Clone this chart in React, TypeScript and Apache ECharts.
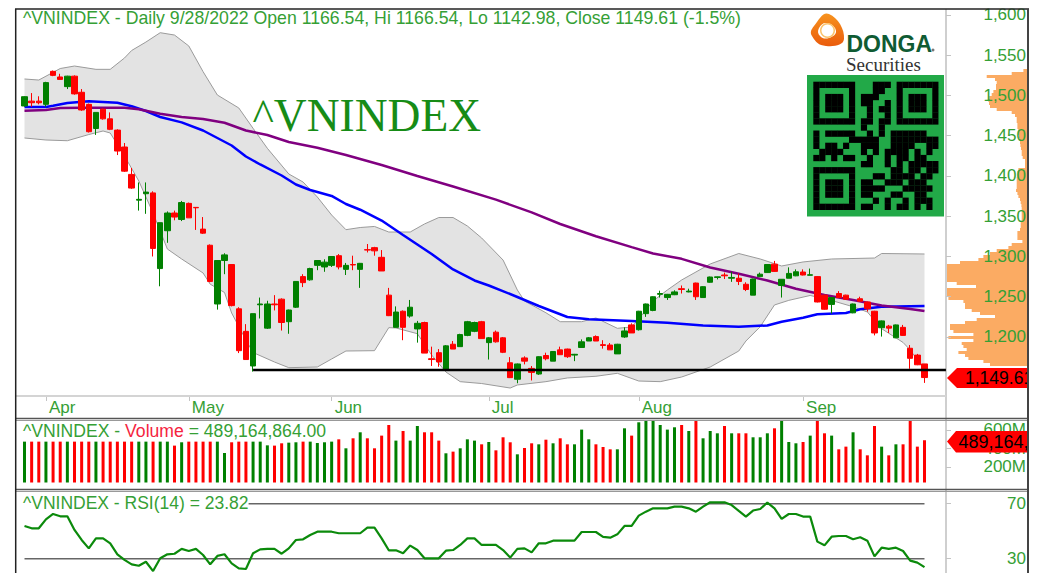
import React, { useEffect, useRef } from "react";
import * as echarts from "echarts";

const tradingDays: [string, number[]][] = [
  ["Mar", [29, 30, 31]],
  ["Apr", [1, 4, 5, 6, 7, 8, 12, 13, 14, 15, 18, 19, 20, 21, 22, 25, 26, 27, 28, 29]],
  ["May", [4, 5, 6, 9, 10, 11, 12, 13, 16, 17, 18, 19, 20, 23, 24, 25, 26, 27, 30, 31]],
  ["Jun", [1, 2, 3, 6, 7, 8, 9, 10, 13, 14, 15, 16, 17, 20, 21, 22, 23, 24, 27, 28, 29, 30]],
  ["Jul", [1, 4, 5, 6, 7, 8, 11, 12, 13, 14, 15, 18, 19, 20, 21, 22, 25, 26, 27, 28, 29]],
  ["Aug", [1, 2, 3, 4, 5, 8, 9, 10, 11, 12, 15, 16, 17, 18, 19, 22, 23, 24, 25, 26, 29, 30, 31]],
  ["Sep", [5, 6, 7, 8, 9, 12, 13, 14, 15, 16, 19, 20, 21, 22, 23, 26, 27, 28]],
];
const monthTicks = ["Apr 1", "May 4", "Jun 1", "Jul 1", "Aug 1", "Sep 5"];
const dates = tradingDays.flatMap(([m, ds]) => ds.map((d) => `${m} ${d}`));
const categories = ["pad0", ...dates, "pad1", "pad2", "pad3"];

// [open, close, low, high]
const candles: number[][] = [
  [1487, 1498.5, 1486, 1499], [1493, 1491, 1486, 1503], [1493, 1491, 1489, 1499], [1489, 1516, 1486, 1517],
  [1530, 1525, 1524, 1531], [1523, 1520, 1520, 1527], [1511, 1524, 1508, 1524.5], [1524, 1502, 1501, 1525],
  [1504, 1482, 1481, 1508], [1489, 1455, 1454, 1490], [1459, 1479, 1451, 1479], [1483, 1471, 1470, 1484],
  [1471, 1458, 1457, 1479], [1457, 1431, 1426, 1458], [1436, 1406, 1405, 1441], [1402, 1385, 1384, 1410],
  [1370, 1371, 1357, 1392], [1378, 1380, 1353, 1392], [1379, 1310, 1300, 1381], [1285, 1342, 1263, 1342],
  [1332, 1354, 1317, 1356], [1354, 1349, 1345, 1357], [1346, 1367, 1344, 1369], [1366, 1348, 1348, 1367],
  [1361, 1360.5, 1333, 1361.5], [1334, 1329, 1328, 1349], [1314, 1269, 1268, 1315], [1241, 1295, 1234, 1295],
  [1295, 1302, 1278, 1304], [1290, 1239, 1238, 1290], [1235, 1183, 1180, 1237], [1207, 1172, 1172, 1216],
  [1164, 1229, 1157, 1229], [1240, 1241, 1223, 1249], [1211, 1241, 1210, 1245], [1241, 1240, 1233, 1252],
  [1247, 1218, 1208, 1248], [1219, 1233.5, 1204, 1234], [1237, 1269, 1236, 1269], [1275, 1267.5, 1262, 1278],
  [1271, 1285, 1270, 1286], [1289, 1295, 1283, 1295], [1287, 1293, 1281, 1296.5], [1289, 1300, 1287, 1300.5],
  [1301, 1287, 1284, 1303], [1284, 1289, 1277, 1292], [1290, 1289.5, 1283, 1301], [1284, 1291.5, 1261, 1292],
  [1308.5, 1308, 1305, 1315.5], [1311, 1307, 1301, 1312], [1299, 1282, 1282, 1308], [1252, 1226.5, 1226, 1261],
  [1212, 1231, 1212, 1238], [1232, 1212, 1196, 1233], [1226, 1237, 1224, 1246], [1210, 1217, 1193, 1220],
  [1218, 1180, 1180, 1219], [1173, 1172, 1164, 1188], [1180.5, 1169, 1163, 1185], [1160, 1189, 1160, 1190],
  [1191, 1185, 1185, 1195], [1188, 1203, 1188, 1204], [1202, 1219, 1201, 1220], [1207, 1218, 1206, 1219],
  [1219, 1198, 1198, 1220], [1193, 1199, 1172, 1200], [1206, 1194, 1193, 1208], [1199, 1181, 1180, 1200],
  [1168, 1149.5, 1149, 1175], [1147.5, 1166.5, 1142.5, 1167], [1174, 1170, 1166, 1176], [1161, 1156, 1146, 1164],
  [1154, 1175.5, 1153, 1176], [1177, 1173, 1171, 1180.5], [1170, 1182, 1170, 1182.5], [1184, 1178, 1178, 1188],
  [1185, 1175.5, 1174, 1185.5], [1177.5, 1178.5, 1170, 1179], [1187, 1194, 1187, 1197], [1195, 1199, 1195, 1200],
  [1200.5, 1195, 1195, 1202], [1190.5, 1189.5, 1185.5, 1196], [1190, 1184, 1184, 1192.5], [1179, 1191, 1179, 1191.5],
  [1200, 1207.5, 1199, 1212], [1215, 1205, 1205, 1217], [1209, 1232, 1208, 1232.5], [1229, 1241, 1225, 1241.5],
  [1233, 1250, 1232, 1250.5], [1253, 1254, 1249, 1257.5], [1249, 1253, 1246, 1253.5], [1252.5, 1256, 1252, 1258],
  [1260, 1259, 1254, 1264], [1256, 1257, 1255.5, 1260], [1267, 1250, 1246, 1267.5], [1249, 1262.5, 1249, 1263],
  [1268, 1274.5, 1267.5, 1275], [1274, 1274.7, 1271.5, 1275], [1277, 1276, 1272, 1280], [1273, 1274, 1268.5, 1281],
  [1273, 1269, 1264.5, 1279], [1265.5, 1259, 1257, 1268], [1252, 1272, 1252, 1272.5], [1275, 1278, 1274.5, 1280],
  [1280, 1290, 1279.5, 1290.5], [1290.5, 1281.5, 1281, 1294.5], [1264, 1271.7, 1249, 1272], [1273, 1279, 1273, 1286.5],
  [1276, 1281, 1275.5, 1284], [1280.7, 1277, 1276.5, 1284], [1276.7, 1277.3, 1276.5, 1285], [1275, 1243.5, 1243, 1275.5],
  [1252, 1234.5, 1234, 1252.5], [1240.5, 1249, 1229, 1249.5], [1254, 1249, 1248.5, 1257], [1252, 1247, 1246.5, 1252.5],
  [1230, 1241, 1229.5, 1241.5], [1247.5, 1244.5, 1244, 1250], [1243.5, 1235, 1231.5, 1244], [1232, 1205, 1202, 1232.5],
  [1211.5, 1220, 1200.5, 1220.5], [1213.5, 1211, 1205, 1215], [1199, 1215, 1198.5, 1215.5], [1212, 1202, 1201.5, 1215],
  [1186, 1173.5, 1160.5, 1190], [1177.5, 1165.5, 1165, 1179], [1166.54, 1149.61, 1142.98, 1166.54],
];

// readings as [trading-day index, price]
const maBlue: number[][] = [
  [0, 1485.7], [3, 1485.7], [4, 1487.2], [6, 1490.7], [9, 1492.8], [11, 1491.9], [13, 1490.9], [15, 1486.6],
  [17, 1480.7], [19, 1473.3], [22, 1466.6], [25, 1456.5], [27, 1447.2], [29, 1437.9], [31, 1424.2], [33, 1414.3],
  [36, 1400.6], [38, 1389.4], [40, 1382.6], [43, 1375.2], [45, 1365.2], [47, 1358.1], [50, 1344.7], [53, 1326.7],
  [55, 1314.9], [57, 1303.1], [60, 1283.9], [63, 1270.2], [65, 1264], [69, 1249.7], [72, 1238.5], [76, 1224.8],
  [79, 1222], [85, 1219.9], [90, 1217.6], [95, 1214.3], [100, 1212.8], [104, 1214.3], [106, 1218.9], [109, 1224],
  [111, 1228.2], [115, 1229.8], [117, 1234.4], [120, 1237.5], [126, 1238.5],
];
const maPurple: number[][] = [
  [0, 1481.1], [3, 1482], [5, 1484.5], [8, 1484.8], [14, 1484.8], [16, 1482.8], [19, 1477.3], [22, 1473.3],
  [25, 1470.8], [28, 1466.1], [31, 1456.5], [34, 1450.9], [37, 1442.2], [41, 1435], [45, 1426.1], [50, 1413.7],
  [55, 1400], [60, 1387], [66, 1370.6], [71, 1354.8], [75, 1340.4], [80, 1325.1], [85, 1311.6], [88, 1303.7],
  [92, 1297.1], [96, 1286.3], [100, 1278.6], [104, 1270.1], [108, 1260], [112, 1252.2], [116, 1246], [120, 1239.1],
  [124, 1234.8], [126, 1232.3],
];
const bbUpper: number[][] = [
  [0, 1520.5], [2, 1519.2], [5, 1533.5], [7, 1536.6], [10, 1532.5], [12, 1532.5], [14, 1546.6], [15, 1555.9],
  [17, 1566.4], [19, 1578], [21, 1575.1], [23, 1561.5], [25, 1529.6], [27, 1500.6], [30, 1484.5], [32, 1459.2],
  [34, 1434.4], [37, 1402.5], [39, 1392.5], [41, 1373.9], [43, 1351.5], [45, 1333.3], [47, 1336], [49, 1337.3],
  [51, 1330.4], [54, 1330.4], [56, 1340.4], [58, 1348.4], [60, 1348.4], [62, 1337.9], [64, 1323], [67, 1295.6],
  [69, 1258.4], [70, 1244.7], [73, 1230.1], [75, 1219], [78, 1219], [80, 1223.6], [83, 1210.8], [85, 1212.4],
  [86, 1222.4], [88, 1244.7], [90, 1258.4], [92, 1270.8], [96, 1290.7], [100, 1303.7], [103, 1296.9], [106, 1288.2],
  [109, 1293.2], [113, 1296.9], [119, 1298.1], [120, 1303.7], [126, 1303.1],
];
const bbLower: number[][] = [
  [0, 1447.2], [3, 1444.7], [6, 1443.8], [9, 1451.5], [11, 1455.9], [12, 1453.4], [14, 1424.8], [16, 1393.8],
  [18, 1354], [20, 1309.3], [22, 1296.9], [25, 1279.5], [26, 1265.6], [28, 1255.3], [29, 1229.8], [31, 1196.3],
  [32, 1180.7], [35, 1168.9], [37, 1161.9], [41, 1162.7], [43, 1172.7], [45, 1182.6], [49, 1183], [51, 1211.6],
  [52, 1211.2], [55, 1204.1], [57, 1177.6], [59, 1156.5], [61, 1144.5], [64, 1142.2], [68, 1136.6], [69, 1140.4],
  [73, 1144.5], [76, 1149.1], [80, 1151.2], [83, 1154.9], [86, 1145.3], [89, 1144.5], [92, 1150.3], [96, 1162.7],
  [100, 1182.6], [101, 1195], [103, 1212.8], [105, 1239.8], [107, 1245.5], [110, 1251.6], [113, 1245.3], [116, 1237.6],
  [118, 1231.1], [120, 1210.3], [123, 1193.2], [124, 1183.9], [126, 1159],
];
const supportLine: number[][] = [[32, 1159], [129, 1159]];

const volumeM: number[] = [
  474, 474, 474, 474, 474, 474, 474, 474, 474, 474, 474, 474, 474, 474, 474, 474, 474, 474, 474, 474, 474,
  431, 467, 474, 474, 474, 474, 474, 351, 467, 474, 474, 474, 474, 434, 431, 456, 463, 467, 474, 474, 459,
  467, 474, 499, 402, 510, 575, 510, 402, 539, 654, 485, 589, 485, 643, 575, 575, 485, 348, 366, 402, 499,
  485, 445, 470, 380, 521, 467, 337, 405, 456, 445, 495, 456, 510, 445, 445, 604, 499, 445, 416, 391, 391,
  618, 539, 683, 701, 701, 654, 604, 629, 654, 589, 701, 510, 589, 564, 643, 564, 564, 564, 521, 521, 564,
  618, 701, 470, 456, 470, 539, 701, 564, 539, 391, 420, 575, 391, 326, 643, 420, 326, 445, 445, 701, 420, 489.16,
];

const rsi: number[] = [
  53.8, 52.1, 52.1, 58.6, 62.5, 60.8, 60.8, 50.9, 43.6, 37.5, 44.8, 44.8, 41.2, 33.2, 29.1, 25.9, 24.9, 27.8, 21,
  30.3, 33.2, 33.6, 37.1, 35.6, 37.1, 32.7, 25.9, 32, 33.2, 26.6, 23, 22.5, 33.9, 36.8, 37.1, 37.1, 33.6, 37.5,
  43.6, 44.1, 47.2, 49.6, 49.6, 49.6, 48.5, 48.5, 48.5, 48.5, 52.6, 52.6, 44.8, 36.1, 36.1, 33.9, 39.5, 36.3, 30.3,
  30.3, 30.3, 35.8, 36.3, 40, 44.8, 44.8, 40, 40, 40, 36.3, 30.8, 37.1, 37.5, 34.6, 41.2, 41.2, 43.1, 43.1, 43.1,
  43.1, 49.4, 49.4, 49.4, 45.8, 45.3, 47.7, 53.8, 53.8, 61.3, 64.2, 66.6, 66.6, 66.6, 67.8, 67.8, 66.6, 64.2, 67.8,
  71, 71, 71, 69, 64.7, 60.6, 65, 66.1, 70.8, 66.6, 58.9, 62.5, 62.5, 60.6, 60.6, 42.4, 39.7, 46, 46.5, 46.5, 44.1,
  45.6, 43.1, 31.7, 38, 37.1, 38, 35.6, 28.6, 27.1, 23.82,
];
const rsiLevels = [70, 30];

// price-volume profile rows, top to bottom
const profile: number[] = [
  4.3, 16, 41, 32.7, 31, 31.7, 31.7, 34.3, 36, 38.3, 39.3, 38.7, 37.7, 31, 16, 12.7, 11, 11, 10.3, 10.3, 9.3, 9.3,
  8.7, 8.3, 7.7, 7.3, 6.7, 6, 6, 5, 2.7, 2.7, 2.7, 9.3, 10.3, 10.3, 11, 11, 11, 11, 11.7, 10.3, 9.3, 7.7, 7, 6.3,
  6, 6, 6, 6, 6, 7, 7, 7.7, 10.3, 10.3, 10.3, 5.3, 16, 19.3, 31, 37.7, 44.3, 49.3, 67.7, 81, 81, 81, 81, 81, 81, 71,
  51.7, 81, 81, 81, 79.3, 64.3, 62.7, 62.7, 56, 47.7, 32.7, 51, 62.7, 77.7, 77.7, 74.3, 54.3, 79.3, 54.3, 66, 64.3,
  61, 69.3, 62.7, 59.3, 44.3, 37.7,
];

const priceTicks = [1200, 1250, 1300, 1350, 1400, 1450, 1500, 1550, 1600];
const volumeTicks = [200, 400, 600];

const qrRows = [
  "111111100011101111111",
  "100000100011001000001",
  "101110101110001011101",
  "101110101100101011101",
  "101110100101101011101",
  "100000100100101000001",
  "111111101101101111111",
  "000000001001000000000",
  "101111100101011111100",
  "100000111110011111111",
  "101101001110011110011",
  "011110001010111101010",
  "110101100100101101100",
  "000000001100101011111",
  "111111100000011011011",
  "100000100011011110110",
  "101110101100111011100",
  "101110101111000111110",
  "101110101100011001100",
  "100000100010100101110",
  "111111101100101101010",
];

const GREEN = "#008000";
const RED = "#FF0000";
const TXT = "#35A035";
const SANS = "'Liberation Sans', Arial, sans-serif";
const SERIF = "'Liberation Serif', 'Times New Roman', serif";

const at = (pts: number[][]) => pts.map(([i, v]) => [i + 1, v]);

function qrGraphics() {
  const out: any[] = [];
  const x0 = 813.3, y0 = 81.7, mw = 5.95, mh = 6.1;
  qrRows.forEach((row, r) => {
    for (let c = 0; c < row.length; c++) {
      if (row[c] === "1") {
        out.push({
          type: "rect", z: 60,
          shape: { x: x0 + c * mw, y: y0 + r * mh, width: mw + 0.2, height: mh + 0.2 },
          style: { fill: "#000" },
        });
      }
    }
  });
  return out;
}

const hLine = (x1: number, x2: number, y: number, stroke: string, w: number, z = 70) => ({
  type: "line", z, shape: { x1, y1: y, x2, y2: y }, style: { stroke, lineWidth: w },
});
const vLine = (x: number, y1: number, y2: number, stroke: string, w: number, z = 70) => ({
  type: "line", z, shape: { x1: x, y1, x2: x, y2 }, style: { stroke, lineWidth: w },
});

function buildOption(): any {
  const grids = [
    { left: 13.79, width: 935.7, top: 10, height: 386 },
    { left: 13.79, width: 935.7, top: 421, height: 61.5 },
    { left: 13.79, width: 935.7, top: 491, height: 82 },
    { left: 946.7, width: 81, top: 69, height: 297 },
  ];
  const hiddenX = (gridIndex: number) => ({
    type: "category", gridIndex, data: categories,
    axisLine: { show: false }, axisTick: { show: false }, axisLabel: { show: false }, splitLine: { show: false },
  });
  const yLabel = {
    fontFamily: SANS, fontSize: 17, color: TXT, align: "right", margin: 80,
  };
  const yBase = {
    position: "right", offset: -3.5, z: 5,
    axisLine: { show: false }, splitLine: { show: false },
  };
  return {
    animation: false,
    tooltip: { show: false },
    legend: { show: false },
    grid: grids,
    xAxis: [
      {
        type: "category", gridIndex: 0, data: categories,
        axisLine: { show: false },
        axisTick: {
          show: true, alignWithLabel: true, length: 5, lineStyle: { color: "#c4c4c4", width: 1 },
          interval: (_: number, v: string) => monthTicks.includes(v),
        },
        axisLabel: {
          show: true, align: "left", margin: 3, padding: [0, 0, 0, 3],
          fontFamily: SANS, fontSize: 17, color: TXT,
          interval: (_: number, v: string) => monthTicks.includes(v),
          formatter: (v: string) => v.split(" ")[0],
        },
        splitLine: { show: false },
      },
      hiddenX(1),
      hiddenX(2),
      { type: "value", gridIndex: 3, inverse: true, min: 0, max: 81, show: false },
    ],
    yAxis: [
      {
        ...yBase, type: "value", gridIndex: 0, min: 1126.7, max: 1606.2,
        axisTick: { show: true, length: 5, lineStyle: { color: "#c4c4c4" }, customValues: priceTicks },
        axisLabel: {
          ...yLabel, customValues: priceTicks,
          formatter: (v: number) => v.toLocaleString("en-US"),
        },
      },
      {
        ...yBase, type: "value", gridIndex: 1, min: 32.4, max: 697,
        axisTick: { show: true, length: 5, lineStyle: { color: "#c4c4c4" }, customValues: volumeTicks },
        axisLabel: { ...yLabel, customValues: volumeTicks, formatter: (v: number) => `${v}M` },
      },
      {
        ...yBase, type: "value", gridIndex: 2, min: 19.6, max: 79.2,
        axisTick: { show: true, length: 5, lineStyle: { color: "#c4c4c4" }, customValues: rsiLevels },
        axisLabel: { ...yLabel, customValues: rsiLevels, formatter: (v: number) => `${v}` },
      },
      { type: "category", gridIndex: 3, inverse: true, show: false, data: profile.map((_, i) => i) },
    ],
    series: [
      {
        type: "custom", name: "Bollinger band", xAxisIndex: 0, yAxisIndex: 0, z: 1, silent: true, clip: true,
        data: [[1, 1300]],
        renderItem: (_: any, api: any) => {
          const pts = [...at(bbUpper), ...at(bbLower).reverse()].map((p) => api.coord(p));
          return { type: "polygon", shape: { points: pts }, style: { fill: "#E3E3E3", stroke: "none" } };
        },
      },
      {
        type: "line", name: "BB upper", xAxisIndex: 0, yAxisIndex: 0, z: 2, symbol: "none", silent: true,
        data: at(bbUpper), lineStyle: { color: "#9a9a9a", width: 1 },
      },
      {
        type: "line", name: "BB lower", xAxisIndex: 0, yAxisIndex: 0, z: 2, symbol: "none", silent: true,
        data: at(bbLower), lineStyle: { color: "#9a9a9a", width: 1 },
      },
      {
        type: "line", name: "SMA blue", xAxisIndex: 0, yAxisIndex: 0, z: 3, symbol: "none", silent: true,
        data: at(maBlue), lineStyle: { color: "#0000FF", width: 2.5 },
      },
      {
        type: "line", name: "SMA purple", xAxisIndex: 0, yAxisIndex: 0, z: 3, symbol: "none", silent: true,
        data: at(maPurple), lineStyle: { color: "#800080", width: 2.5 },
      },
      {
        type: "candlestick", name: "^VNINDEX", xAxisIndex: 0, yAxisIndex: 0, z: 4, silent: true,
        barWidth: 6,
        encode: { x: 0, y: [1, 2, 3, 4] },
        data: candles.map((c, i) => [i + 1, ...c]),
        itemStyle: { color: GREEN, color0: RED, borderColor: GREEN, borderColor0: RED, borderWidth: 1 },
      },
      {
        type: "line", name: "Support", xAxisIndex: 0, yAxisIndex: 0, z: 5, symbol: "none", silent: true,
        data: at(supportLine), lineStyle: { color: "#000", width: 2.5 },
      },
      {
        type: "bar", name: "Volume", xAxisIndex: 1, yAxisIndex: 1, barWidth: 3, silent: true,
        encode: { x: 0, y: 1 },
        data: volumeM.map((v, i) => [i + 1, v]),
        itemStyle: {
          color: (p: any) => {
            const c = candles[p.dataIndex];
            return c[1] >= c[0] ? GREEN : RED;
          },
        },
      },
      ...rsiLevels.map((lv) => ({
        type: "line", name: `RSI ${lv}`, xAxisIndex: 2, yAxisIndex: 2, z: 2, symbol: "none", silent: true,
        data: at([[0, lv], [126, lv]]), lineStyle: { color: "#666", width: 1.5 },
      })),
      {
        type: "line", name: "RSI(14)", xAxisIndex: 2, yAxisIndex: 2, z: 3, symbol: "none", silent: true,
        data: rsi.map((v, i) => [i + 1, v]), lineStyle: { color: "#0B8A0B", width: 2.2 },
      },
      {
        type: "bar", name: "Volume by price", xAxisIndex: 3, yAxisIndex: 3, silent: true,
        barWidth: "100%", data: profile, itemStyle: { color: "#FBAB63" },
      },
    ],
    graphic: [
      // panel rules
      vLine(946, 9, 573, "#cfcfcf", 2, 3),
      hLine(16, 946, 396, "#d4d4d4", 2, 3),
      hLine(16, 1028, 418.5, "#555", 1.5),
      hLine(16, 1028, 420.5, "#999", 1),
      hLine(16, 1028, 489.5, "#555", 1.5),
      hLine(16, 1028, 491.5, "#999", 1),
      // header texts
      {
        type: "text", z: 40, x: 23, y: 9,
        style: {
          text: "^VNINDEX - Daily 9/28/2022 Open 1166.54, Hi 1166.54, Lo 1142.98, Close 1149.61 (-1.5%)",
          fontFamily: SANS, fontSize: 17.7, fill: TXT,
        },
      },
      {
        type: "text", z: 40, x: 252.5, y: 92,
        style: { text: "^VNINDEX", fontFamily: SERIF, fontSize: 45.5, fill: "#168C16" },
      },
      {
        type: "text", z: 40, x: 23, y: 422,
        style: {
          text: "{g|^VNINDEX - }{r|Volume}{g| = 489,164,864.00}",
          rich: {
            g: { fontFamily: SANS, fontSize: 17.6, fill: TXT, color: TXT },
            r: { fontFamily: SANS, fontSize: 17.6, fill: "#F52440", color: "#F52440" },
          },
        },
      },
      {
        type: "text", z: 40, x: 23, y: 494,
        style: {
          text: "^VNINDEX - RSI(14) = 23.82", fontFamily: SANS, fontSize: 17.5, fill: TXT,
          backgroundColor: "#fff",
        },
      },
      // logo
      {
        type: "polygon", z: 60,
        shape: { points: [[829, 14], [844, 39], [826, 46], [812, 36], [814, 26]], smooth: 0.5 },
        style: {
          fill: new echarts.graphic.LinearGradient(0, 0, 0, 1, [
            { offset: 0, color: "#F7931E" },
            { offset: 1, color: "#EA5B0C" },
          ]),
        },
      },
      {
        type: "polygon", z: 61,
        shape: { points: [[827, 23], [836, 31], [829, 38], [820, 36], [819, 28]], smooth: 0.5 },
        style: { fill: "#fff" },
      },
      {
        type: "ring", z: 62, shape: { cx: 827.5, cy: 30.5, r: 7.5, r0: 6 },
        style: { fill: "#FBC36B" },
      },
      {
        type: "text", z: 60, x: 846.5, y: 32,
        style: { text: "DONGA", fontFamily: SANS, fontWeight: "bold", fontSize: 23, fill: "#0F5B33" },
      },
      { type: "circle", z: 60, shape: { cx: 933, cy: 50, r: 1.5 }, style: { fill: "#777" } },
      {
        type: "text", z: 60, x: 846, y: 55,
        style: { text: "Securities", fontFamily: SERIF, fontSize: 19, fill: "#333" },
      },
      { type: "rect", z: 50, shape: { x: 807, y: 75, width: 137, height: 141.5 }, style: { fill: "#22A948" } },
      ...qrGraphics(),
      // last-value tags
      {
        type: "polygon", z: 80,
        shape: { points: [[947, 378], [957, 368], [1040, 368], [1040, 388], [957, 388]] },
        style: { fill: "#FF0000" },
      },
      {
        type: "text", z: 81, x: 965, y: 368.5,
        style: { text: "1,149.61", fontFamily: SANS, fontSize: 17.5, fill: "#000" },
      },
      {
        type: "polygon", z: 80,
        shape: { points: [[947, 441.5], [956, 431], [1040, 431], [1040, 452.5], [956, 452.5]] },
        style: { fill: "#FF0000" },
      },
      {
        type: "text", z: 81, x: 958.5, y: 432.5,
        style: { text: "489,164,864.00", fontFamily: SANS, fontSize: 18, fill: "#000" },
      },
      // outer frame and margins
      { type: "rect", z: 90, shape: { x: 0, y: 0, width: 1037, height: 8.5 }, style: { fill: "#fff" } },
      { type: "rect", z: 90, shape: { x: 1029, y: 0, width: 8, height: 573 }, style: { fill: "#fff" } },
      { type: "rect", z: 90, shape: { x: 0, y: 0, width: 15, height: 573 }, style: { fill: "#fff" } },
      hLine(15, 1029, 9, "#222", 1.5, 95),
      vLine(15.7, 9, 573, "#222", 1.5, 95),
      vLine(1028, 9, 573, "#444", 2, 95),
    ],
  };
}

export default function App() {
  const ref = useRef<HTMLDivElement>(null);
  useEffect(() => {
    document.body.style.margin = "0";
    const chart = echarts.init(ref.current!, null, { renderer: "svg" });
    chart.setOption(buildOption());
    return () => chart.dispose();
  }, []);
  return <div ref={ref} style={{ width: 1037, height: 573, background: "#fff" }} />;
}
